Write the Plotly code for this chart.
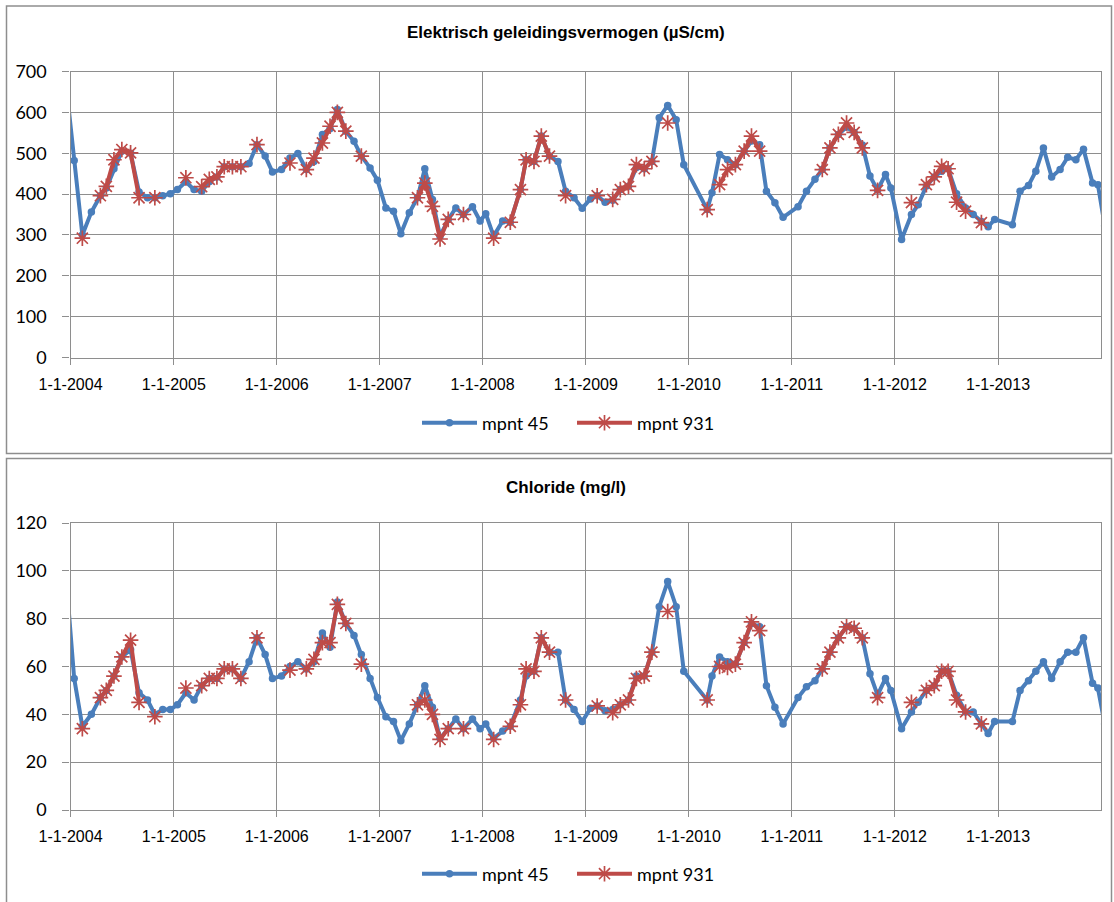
import plotly.graph_objects as go

# Sampling dates shared by both measuring points (mpnt 931 only sampled on some dates)
dates = [
    "2003-12-20", "2004-01-14", "2004-02-12", "2004-03-15", "2004-04-16", "2004-05-07",
    "2004-06-03", "2004-07-01", "2004-08-01", "2004-08-31", "2004-09-30", "2004-10-26",
    "2004-11-23", "2004-12-20", "2005-01-14", "2005-02-13", "2005-03-14", "2005-04-10",
    "2005-05-07", "2005-06-03", "2005-06-29", "2005-07-28", "2005-08-27", "2005-09-25",
    "2005-10-23", "2005-11-21", "2005-12-17", "2006-01-18", "2006-02-17", "2006-03-17",
    "2006-04-16", "2006-05-13", "2006-06-12", "2006-07-09", "2006-08-04", "2006-09-03",
    "2006-10-02", "2006-10-28", "2006-11-28", "2006-12-24", "2007-01-23", "2007-02-19",
    "2007-03-17", "2007-04-16", "2007-05-15", "2007-06-10", "2007-07-07", "2007-08-03",
    "2007-09-01", "2007-09-28", "2007-10-25", "2007-11-26", "2007-12-23", "2008-01-12",
    "2008-02-09", "2008-03-12", "2008-04-08", "2008-05-14", "2008-06-03", "2008-07-01",
    "2008-07-27", "2008-08-25", "2008-09-24", "2008-10-21", "2008-11-20", "2008-12-19",
    "2009-01-17", "2009-02-10", "2009-03-10", "2009-04-06", "2009-05-03", "2009-06-01",
    "2009-06-29", "2009-07-27", "2009-08-23", "2009-09-18", "2009-10-18", "2009-11-17",
    "2009-12-14", "2010-03-07", "2010-03-24", "2010-04-20", "2010-05-18", "2010-06-15",
    "2010-07-16", "2010-08-11", "2010-09-09", "2010-10-03", "2010-11-02", "2010-12-01",
    "2011-01-23", "2011-02-22", "2011-03-24", "2011-04-19", "2011-05-16", "2011-06-15",
    "2011-07-14", "2011-08-10", "2011-09-08", "2011-10-05", "2011-11-01", "2011-11-29",
    "2011-12-18", "2012-01-25", "2012-02-29", "2012-03-24", "2012-04-22", "2012-05-20",
    "2012-06-15", "2012-07-08", "2012-08-07", "2012-09-08", "2012-10-05", "2012-11-03",
    "2012-11-27", "2012-12-20", "2013-02-21", "2013-03-20", "2013-04-19", "2013-05-15",
    "2013-06-11", "2013-07-10", "2013-08-09", "2013-09-05", "2013-10-04", "2013-10-31",
    "2013-12-02", "2013-12-21", "2014-01-14",
]

# Electrical conductivity (µS/cm)
egv_45 = [
    645, 482, 300, 356, 396, 415, 462, 505, 500, 405, 391, 391,
    396, 401, 411, 430, 411, 407, 430, 442, 467, 467, 467, 475,
    521, 493, 454, 460, 488, 499, 460, 480, 546, 560, 607, 554,
    529, 493, 464, 434, 366, 358, 303, 354, 391, 462, 387, 297,
    338, 366, 350, 369, 334, 352, 297, 334, 331, 411, 484, 480,
    542, 493, 480, 407, 391, 365, 388, 396, 380, 385, 411, 419,
    465, 462, 480, 587, 617, 582, 472, 362, 403, 497, 484, 472,
    505, 530, 521, 407, 379, 343, 369, 407, 436, 460, 513, 546,
    564, 551, 520, 444, 410, 448, 415, 289, 350, 374, 420, 442,
    456, 462, 401, 366, 350, 333, 320, 338, 325, 407, 421, 456,
    513, 442, 460, 490, 484, 510, 427, 423, 323,
]
egv_931 = [
    None, None, 292, None, 396, 419, 484, 509, 501, 391, None, 391,
    None, None, None, 440, None, 418, 436, 442, 467, 467, 467, None,
    521, None, None, None, 476, None, 460, 488, 525, 566, 600, 554,
    None, 493, None, None, None, None, None, None, 391, 427, 370, 290,
    338, None, 350, None, None, None, 292, None, 331, 411, 484, 480,
    542, 493, None, 396, None, None, None, 396, None, 387, 411, 419,
    472, 462, 480, None, 574, None, None, 362, None, 423, 460, 472,
    505, 542, 505, None, None, None, None, None, None, 460, 513, 546,
    574, 551, 513, None, 409, None, None, None, 379, None, 423, 442,
    468, 462, 380, 358, None, 330, None, None, None, None, None, None,
    None, None, None, None, None, None, None, None, None,
]

# Chloride (mg/l)
cl_45 = [
    92, 55, 35, 40, 47, 50, 56, 64, 67, 49, 46, 40,
    42, 42, 44, 49, 46, 52, 55, 55, 59, 59, 55, 62,
    72, 65, 55, 56, 60, 62, 59, 62, 74, 68, 87, 78,
    73, 65, 55, 47, 39, 37, 29, 36, 44, 52, 43, 30,
    34, 38, 34, 38, 34, 36, 30, 33, 35, 46, 56, 58,
    72, 66, 66, 46, 42, 37, 42.5, 43.5, 41.5, 42, 44, 46,
    56, 56, 66, 85, 95.5, 85, 58, 46, 56, 64, 62, 61,
    70, 78, 76.6, 52, 43, 36, 47, 51.5, 54, 59, 66, 72,
    76.6, 76, 72, 57, 48, 55, 50, 34, 41, 45, 50, 52,
    58, 58, 48, 41, 41, 36, 32, 37, 37, 50, 54, 58,
    62, 55, 62, 66, 66, 72, 53, 51, 36,
]
cl_931 = [
    None, None, 34, None, 47, 50, 56, 64, 71, 45, None, 39,
    None, None, None, 51, None, 52, 55, 55, 59, 59, 55, None,
    72, None, None, None, 58.5, None, 59, 63, 70, 70, 86, 78,
    None, 61, None, None, None, None, None, None, 44, 46, 40, 29.5,
    34, None, 34, None, None, None, 29.5, None, 35, 44, 59, 58,
    72, 66, None, 46, None, None, None, 43.5, None, 40.7, 44, 46,
    55, 56, 66, None, 83, None, None, 46, None, 60, 59.6, 61,
    70, 78.7, 75, None, None, None, None, None, None, 59, 66, 72,
    76.6, 76, 72, None, 47, None, None, None, 45, None, 50, 52,
    58, 58, 46, 41, None, 36, None, None, None, None, None, None,
    None, None, None, None, None, None, None, None, None,
]

year_ticks = ["2004-01-01", "2005-01-01", "2006-01-01", "2007-01-01", "2008-01-01",
              "2009-01-01", "2010-01-01", "2011-01-01", "2012-01-01", "2013-01-01"]
year_labels = ["1-1-2004", "1-1-2005", "1-1-2006", "1-1-2007", "1-1-2008",
               "1-1-2009", "1-1-2010", "1-1-2011", "1-1-2012", "1-1-2013"]

titles = ["Elektrisch geleidingsvermogen (µS/cm)", "Chloride (mg/l)"]
names = ["mpnt 45", "mpnt 931"]

W, H = 1114, 902
BLUE = "#4A7EBB"
RED = "#BE4B48"
GRID = "#8E8E8E"


def px_x(x):
    return x / W


def px_y(y):
    return 1 - y / H


fig = go.Figure()

panels = [
    dict(series=(egv_45, egv_931), xa="x", ya="y", legend="legend"),
    dict(series=(cl_45, cl_931), xa="x2", ya="y2", legend="legend2"),
]

for p in panels:
    s45, s931 = p["series"]
    fig.add_trace(go.Scatter(
        x=dates, y=s45, name=names[0], mode="lines+markers",
        line=dict(color=BLUE, width=4),
        marker=dict(symbol="circle", size=7.5, color=BLUE),
        xaxis=p["xa"], yaxis=p["ya"], legend=p["legend"],
    ))
    fig.add_trace(go.Scatter(
        x=dates, y=s931, name=names[1], mode="lines+markers",
        connectgaps=False,
        line=dict(color=RED, width=4),
        marker=dict(symbol="asterisk-open", size=13, color=RED,
                    line=dict(color=RED, width=1.7)),
        xaxis=p["xa"], yaxis=p["ya"], legend=p["legend"],
    ))

xdom = [px_x(70.5), px_x(1101)]
common_x = dict(
    type="date", range=["2004-01-01", "2014-01-01"],
    tickvals=year_ticks, ticktext=year_labels,
    showgrid=True, gridcolor=GRID, gridwidth=1.3,
    showline=True, mirror=True, linecolor=GRID, linewidth=1.3,
    ticks="outside", ticklen=6, tickcolor=GRID, tickwidth=1.3,
    ticklabelstandoff=6,
    tickfont=dict(family="Liberation Sans", size=16, color="#000000"),
    domain=xdom, zeroline=False, automargin=False,
)
common_y = dict(
    showgrid=True, gridcolor=GRID, gridwidth=1.3,
    showline=True, mirror=True, linecolor=GRID, linewidth=1.3,
    ticks="outside", ticklen=7, tickcolor=GRID, tickwidth=1.3,
    ticklabelstandoff=12,
    tickfont=dict(family="Lato", size=18, color="#000000"),
    zeroline=False, automargin=False,
)

legend_style = dict(
    orientation="h", x=px_x(572), xanchor="center", yanchor="middle",
    font=dict(family="Lato", size=18, color="#000000"),
    bgcolor="rgba(0,0,0,0)", itemwidth=55, entrywidth=85,
)

fig.update_layout(
    width=W, height=H, autosize=False,
    margin=dict(l=0, r=0, t=0, b=0, pad=0),
    paper_bgcolor="white", plot_bgcolor="white",
    xaxis=dict(common_x, anchor="y"),
    xaxis2=dict(common_x, anchor="y2"),
    yaxis=dict(common_y, range=[0, 700], dtick=100, anchor="x",
               domain=[px_y(357.5), px_y(71.5)]),
    yaxis2=dict(common_y, range=[0, 120], dtick=20, anchor="x2",
                domain=[px_y(810), px_y(523)]),
    legend=dict(legend_style, y=px_y(423)),
    legend2=dict(legend_style, y=px_y(874)),
    showlegend=True,
)

# Chart titles
for title, ty in zip(titles, [32, 487]):
    fig.add_annotation(
        text="<b>" + title + "</b>", xref="paper", yref="paper",
        x=px_x(566), y=px_y(ty), xanchor="center", yanchor="middle",
        showarrow=False, font=dict(family="Liberation Sans", size=17, color="#000000"),
    )

# Chart-area frames around each panel
for (y0, y1) in [(6, 453.5), (458.5, 905)]:
    fig.add_shape(
        type="rect", xref="paper", yref="paper",
        x0=px_x(6.5), x1=px_x(1111.5), y0=px_y(y1), y1=px_y(y0),
        line=dict(color=GRID, width=1.5), fillcolor="rgba(0,0,0,0)", layer="below",
    )

fig.write_html("out.html")
